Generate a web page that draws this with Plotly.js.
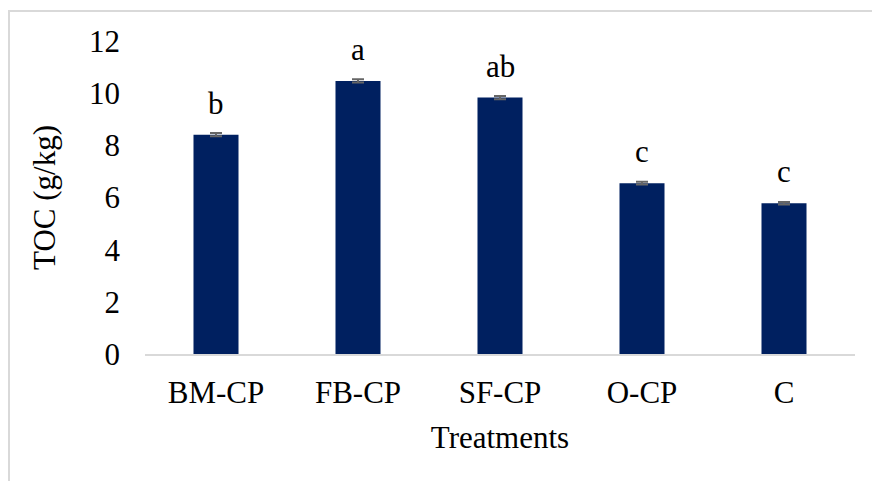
<!DOCTYPE html>
<html>
<head>
<meta charset="utf-8">
<script src="https://cdn.plot.ly/plotly-3.0.1.min.js"></script>
<style>
html,body{margin:0;padding:0;background:#fff;}
#wrap{position:relative;width:872px;height:481px;}
#chart{width:872px;height:481px;}
#frame{position:absolute;left:8px;top:10px;right:0;bottom:0;border-top:2px solid #d9d9d9;border-left:2px solid #d9d9d9;pointer-events:none;}
</style>
</head>
<body>
<div id="wrap"><div id="chart"></div><div id="frame"></div></div>
<script>
const categories = ["BM-CP", "FB-CP", "SF-CP", "O-CP", "C"];
const tocValues = [8.41, 10.47, 9.83, 6.55, 5.78];
const tocErrors = [0.06, 0.06, 0.06, 0.05, 0.05];
const letters = ["b", "a", "ab", "c", "c"];
const yTicks = [0, 2, 4, 6, 8, 10, 12];

const font = "Liberation Serif, Times New Roman, serif";
const fs = 31;

const trace = {
  type: "bar",
  x: categories,
  y: tocValues,
  width: 0.317,
  marker: {color: "#002060"},
  error_y: {type: "data", array: tocErrors, visible: true, color: "#666666", thickness: 2, width: 6},
  hoverinfo: "none"
};

const annotations = categories.map((c, i) => ({
  x: c, y: tocValues[i], xref: "x", yref: "y",
  text: letters[i], showarrow: false, yanchor: "bottom", yshift: 12,
  font: {family: font, size: fs, color: "#000000"}
}));

const layout = {
  width: 872, height: 481,
  margin: {l: 145, r: 17, t: 41, b: 127},
  paper_bgcolor: "#fff", plot_bgcolor: "#fff",
  showlegend: false,
  font: {family: font, color: "#000000", size: fs},
  xaxis: {
    type: "category",
    showline: true, linecolor: "#d9d9d9", linewidth: 2,
    ticks: "", ticklabelstandoff: 10,
    tickfont: {family: font, size: fs, color: "#000000"},
    title: {text: "Treatments", font: {family: font, size: fs, color: "#000000"}, standoff: 17}
  },
  yaxis: {
    range: [0, 12], tickvals: yTicks, ticktext: yTicks.map(String),
    showgrid: false, zeroline: false, showline: false,
    ticks: "", ticklabelstandoff: 24,
    tickfont: {family: font, size: fs, color: "#000000"},
    title: {text: "TOC (g/kg)", font: {family: font, size: fs, color: "#000000"}, standoff: 24}
  },
  annotations: annotations
};

Plotly.newPlot("chart", [trace], layout, {staticPlot: true, displayModeBar: false});
</script>
</body>
</html>
